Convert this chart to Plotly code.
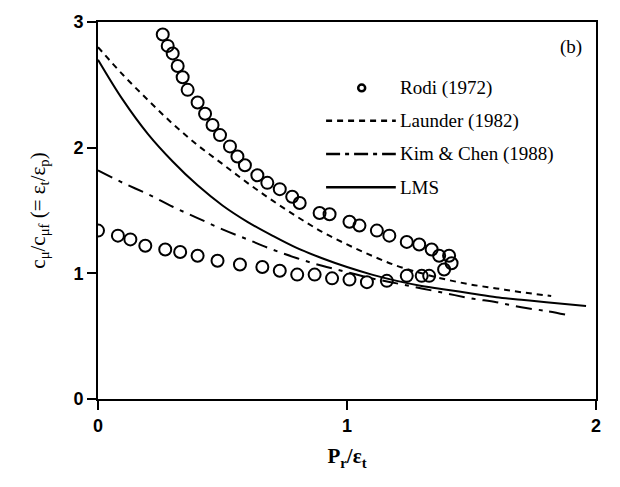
import plotly.graph_objects as go

# Rodi (1972) measurements, upper and lower branches
rodi_upper_x = [0.26, 0.28, 0.30, 0.32, 0.34, 0.36, 0.40, 0.43, 0.46, 0.49, 0.53, 0.56,
                0.59, 0.64, 0.68, 0.73, 0.78, 0.81, 0.89, 0.93, 1.01, 1.05, 1.12, 1.17,
                1.24, 1.29, 1.34, 1.37, 1.41, 1.42, 1.39]
rodi_upper_y = [2.90, 2.81, 2.75, 2.65, 2.56, 2.46, 2.36, 2.27, 2.18, 2.10, 2.01, 1.93,
                1.86, 1.78, 1.72, 1.67, 1.61, 1.56, 1.48, 1.47, 1.41, 1.38, 1.34, 1.30,
                1.25, 1.23, 1.19, 1.14, 1.14, 1.08, 1.03]
rodi_lower_x = [0.00, 0.08, 0.13, 0.19, 0.27, 0.33, 0.40, 0.48, 0.57, 0.66, 0.73, 0.80,
                0.87, 0.94, 1.01, 1.08, 1.16, 1.24, 1.30, 1.33]
rodi_lower_y = [1.34, 1.30, 1.27, 1.22, 1.19, 1.17, 1.14, 1.10, 1.07, 1.05, 1.02, 0.99,
                0.99, 0.96, 0.95, 0.93, 0.94, 0.98, 0.98, 0.98]

# Model curves
launder_x = [0.0, 0.1, 0.2, 0.3, 0.4, 0.5, 0.6, 0.7, 0.8, 0.9, 1.0, 1.1, 1.2, 1.3, 1.4,
             1.5, 1.6, 1.7, 1.82]
launder_y = [2.80, 2.58, 2.38, 2.19, 2.02, 1.87, 1.72, 1.58, 1.45, 1.33, 1.23, 1.14, 1.06,
             1.00, 0.95, 0.91, 0.88, 0.85, 0.82]

kim_x = [0.0, 0.1, 0.2, 0.3, 0.4, 0.5, 0.6, 0.7, 0.8, 0.9, 1.0, 1.1, 1.2, 1.3, 1.4, 1.5,
         1.6, 1.7, 1.8, 1.88]
kim_y = [1.82, 1.72, 1.63, 1.53, 1.44, 1.35, 1.27, 1.19, 1.12, 1.06, 1.01, 0.96, 0.92,
         0.88, 0.84, 0.80, 0.77, 0.73, 0.70, 0.67]

lms_x = [0.0, 0.1, 0.2, 0.3, 0.4, 0.5, 0.6, 0.7, 0.8, 0.9, 1.0, 1.1, 1.2, 1.3, 1.4, 1.5,
         1.6, 1.7, 1.8, 1.96]
lms_y = [2.70, 2.38, 2.11, 1.89, 1.70, 1.54, 1.41, 1.30, 1.20, 1.12, 1.05, 0.99, 0.94,
         0.90, 0.87, 0.84, 0.81, 0.79, 0.77, 0.74]

x_ticks = [0, 1, 2]
y_ticks = [0, 1, 2, 3]

legend_labels = ["Rodi (1972)", "Launder (1982)", "Kim & Chen (1988)", "LMS"]

INK = "black"
SERIF = "Liberation Serif"

fig = go.Figure()

marker_style = dict(symbol="circle-open", size=12, color=INK, line=dict(width=2, color=INK))
fig.add_trace(go.Scatter(x=rodi_upper_x, y=rodi_upper_y, mode="markers",
                         marker=marker_style, showlegend=False))
fig.add_trace(go.Scatter(x=rodi_lower_x, y=rodi_lower_y, mode="markers",
                         marker=marker_style, showlegend=False))

dash_launder = "6px,5px"
dash_kim = "16px,7px,4px,7px"
fig.add_trace(go.Scatter(x=launder_x, y=launder_y, mode="lines", line_shape="spline",
                         line=dict(color=INK, width=2, dash=dash_launder), showlegend=False))
fig.add_trace(go.Scatter(x=kim_x, y=kim_y, mode="lines", line_shape="spline",
                         line=dict(color=INK, width=2, dash=dash_kim), showlegend=False))
fig.add_trace(go.Scatter(x=lms_x, y=lms_y, mode="lines", line_shape="spline",
                         line=dict(color=INK, width=2), showlegend=False))

# Hand-drawn key in the upper right corner
row_y = [0.825, 0.738, 0.650, 0.562]   # paper coordinates of the key rows
line_x0, line_x1, text_x = 0.458, 0.598, 0.602
fig.add_shape(type="circle", xref="paper", yref="paper",
              x0=0.5225, x1=0.5365, y0=row_y[0] - 0.009, y1=row_y[0] + 0.009,
              line=dict(color=INK, width=2.5))
for yy, dash in zip(row_y[1:], [dash_launder, "14px,5px,4px,5px", "solid"]):
    fig.add_shape(type="line", xref="paper", yref="paper",
                  x0=line_x0, x1=line_x1, y0=yy, y1=yy,
                  line=dict(color=INK, width=2.5, dash=dash))
for yy, label in zip(row_y, legend_labels):
    fig.add_annotation(x=text_x, y=yy, xref="paper", yref="paper", text=label,
                       showarrow=False, xanchor="left", yanchor="middle",
                       font=dict(family=SERIF, size=19, color=INK))
fig.add_annotation(x=0.975, y=0.935, xref="paper", yref="paper", text="(b)",
                   showarrow=False, xanchor="right", yanchor="middle",
                   font=dict(family=SERIF, size=19, color=INK))

axis_common = dict(showline=True, linewidth=2, linecolor=INK, mirror=True,
                   ticks="outside", ticklen=9, tickwidth=2, tickcolor=INK,
                   showgrid=False, zeroline=False,
                   tickfont=dict(family="Liberation Sans", size=18, color=INK))

fig.update_xaxes(range=[0, 2], tickvals=x_ticks, ticktext=[f"<b>{v}</b>" for v in x_ticks],
                 title=dict(text="<b>P<sub>r</sub>/ε<sub>t</sub></b>", standoff=14,
                            font=dict(family=SERIF, size=21, color=INK)),
                 **axis_common)
fig.update_yaxes(range=[0, 3], tickvals=y_ticks, ticktext=[f"<b>{v}</b>" for v in y_ticks],
                 title=dict(text="c<sub>μ</sub>/c<sub>μf</sub> (= ε<sub>t</sub>/ε<sub>p</sub>)",
                            standoff=22, font=dict(family=SERIF, size=21, color=INK)),
                 **axis_common)

fig.update_layout(width=620, height=487, margin=dict(l=98, r=24, t=13, b=88),
                  paper_bgcolor="white", plot_bgcolor="white", showlegend=False)

fig.write_html("out.html")
